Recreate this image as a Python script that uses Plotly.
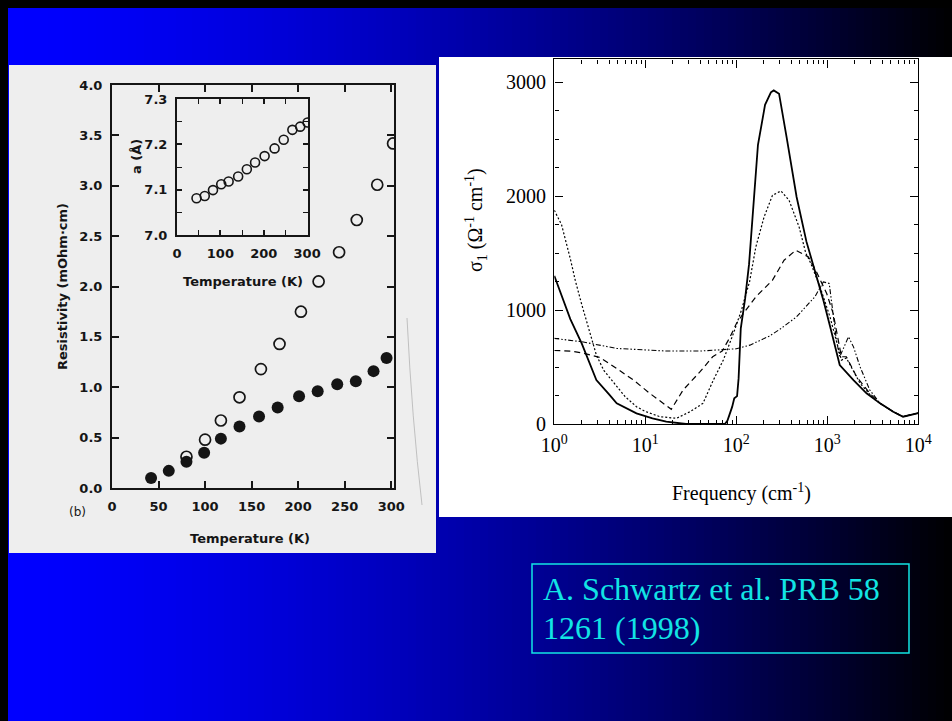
import plotly.graph_objects as go

W, H = 952, 721

# ---- Resistivity vs temperature (main left panel) ----
temp_filled = [42, 61, 80, 99, 117, 137, 158, 178, 201, 221, 242, 262, 281, 295]
rho_filled = [0.10, 0.17, 0.26, 0.35, 0.49, 0.61, 0.71, 0.80, 0.91, 0.96, 1.03, 1.06, 1.16, 1.29]
temp_open = [80, 100, 117, 137, 160, 180, 203, 222, 244, 263, 285, 302]
rho_open = [0.31, 0.48, 0.67, 0.90, 1.18, 1.43, 1.75, 2.05, 2.34, 2.66, 3.01, 3.42]

# ---- Lattice parameter vs temperature (inset) ----
temp_lattice = [45, 64, 83, 102, 119, 141, 161, 180, 202, 225, 246, 266, 284, 301]
a_lattice = [7.081, 7.086, 7.099, 7.112, 7.118, 7.129, 7.145, 7.160, 7.174, 7.191,
             7.210, 7.232, 7.239, 7.248]

# ---- Optical conductivity spectra (right panel) ----
freq_solid = [1, 1.3, 1.5, 2.0, 2.9, 4.0, 4.85, 8, 12, 17, 22, 28, 75, 80, 90, 95, 102,
              106, 112, 125, 138, 153, 173, 207, 240, 258, 295, 357, 460, 590, 700, 910,
              1070, 1220, 1370, 1940, 2700, 3800, 5300, 6800, 8900, 10000]
sigma_solid = [1300, 1050, 920, 707, 386, 260, 181, 94, 50, 20, 8, 0, 0, 30, 150, 225, 245,
               400, 840, 1100, 1400, 1900, 2450, 2800, 2910, 2927, 2898, 2518, 1992, 1600,
               1400, 1080, 860, 680, 517, 386, 269, 181, 108, 64, 88, 95]

freq_dot = [1, 1.2, 1.5, 1.7, 2.0, 2.5, 2.9, 3.5, 4.85, 6, 8, 10, 14.5, 22, 31, 43, 56, 72,
            93, 114, 140, 164, 202, 250, 310, 380, 490, 580, 650, 830, 1070, 1260, 1430,
            1620, 2290, 3200, 3800, 5300, 6800, 8900, 10000]
sigma_dot = [1875, 1750, 1450, 1260, 1050, 790, 605, 470, 327, 240, 152, 110, 64, 50, 108,
             181, 386, 561, 795, 1000, 1250, 1554, 1817, 2007, 2045, 1963, 1729, 1500, 1420,
             1206, 940, 736, 561, 580, 357, 225, 181, 108, 64, 88, 95]

freq_dash = [1, 1.5, 2, 3.18, 5, 7.4, 11.2, 19.3, 26, 30.4, 40, 55, 70, 85, 100, 117, 164,
             250, 335, 450, 620, 760, 985, 1160, 1320, 1430, 1620, 2100, 2930, 3800, 5300,
             6800, 8900, 10000]
sigma_dash = [645, 640, 625, 584, 480, 386, 269, 129, 298, 357, 459, 590, 640, 760, 880,
              960, 1116, 1262, 1437, 1525, 1466, 1335, 1145, 970, 736, 590, 590, 415, 269,
              181, 108, 64, 88, 95]

freq_ddd = [1, 2, 4.85, 17.2, 40, 78, 100, 141, 229, 300, 459, 730, 905, 1050, 1160, 1260,
            1370, 1710, 1940, 2290, 2930, 3800, 5300, 6800, 8900, 10000]
sigma_ddd = [751, 722, 663, 640, 640, 655, 660, 692, 770, 830, 940, 1116, 1247, 1233, 940,
             736, 590, 765, 677, 502, 298, 181, 108, 64, 88, 95]

temp_ticks = [0, 50, 100, 150, 200, 250, 300]
freq_ticks = [1, 10, 100, 1000, 10000]
freq_tick_text = ["10<sup>0</sup>", "10<sup>1</sup>", "10<sup>2</sup>", "10<sup>3</sup>",
                  "10<sup>4</sup>"]
sigma_ticks = [0, 1000, 2000, 3000]

citation = ["A. Schwartz et al. PRB 58", "1261 (1998)"]


def px(x):
    return x / W


def py(y):
    return 1 - y / H


INK = "#151515"
SCAN_GRAY = "#eeeeee"
CYAN = "#12e4e4"
sans = dict(family="DejaVu Sans", size=13, color=INK, weight="bold")
serif = dict(family="Liberation Serif", size=20, color="black")

fig = go.Figure()

fig.add_trace(go.Scatter(
    x=temp_open, y=rho_open, mode="markers", xaxis="x", yaxis="y",
    marker=dict(symbol="circle-open", size=11, color=INK, line=dict(width=1.7)),
))
fig.add_trace(go.Scatter(
    x=temp_filled, y=rho_filled, mode="markers", xaxis="x", yaxis="y",
    marker=dict(symbol="circle", size=12, color=INK),
))
fig.add_trace(go.Scatter(
    x=temp_lattice, y=a_lattice, mode="markers", xaxis="x2", yaxis="y2",
    marker=dict(symbol="circle-open", size=9, color=INK, line=dict(width=1.6)),
))

curves = [
    (freq_ddd, sigma_ddd, "5px,2px,1.5px,2px,1.5px,2px", 1.1),
    (freq_dash, sigma_dash, "6px,4px", 1.2),
    (freq_dot, sigma_dot, "2px,2px", 1.2),
    (freq_solid, sigma_solid, "solid", 1.8),
]
for fx, fy, dash, lw in curves:
    fig.add_trace(go.Scatter(
        x=fx, y=fy, mode="lines", xaxis="x3", yaxis="y3",
        line=dict(color="black", width=lw, dash=dash),
    ))

# Slide background: horizontal blue-to-black gradient built from thin strips
shapes = [dict(type="rect", xref="paper", yref="paper", x0=0, x1=1, y0=0, y1=1,
               fillcolor="black", line=dict(width=0), layer="below")]
n_strips = 118
x_start = 8
for i in range(n_strips):
    x0 = x_start + (W - x_start) * i / n_strips
    x1 = x_start + (W - x_start) * (i + 1) / n_strips + 0.6
    t = (i + 0.5) / n_strips
    b = int(round(255 * max(0.0, 1 - t ** 1.5)))
    shapes.append(dict(type="rect", xref="paper", yref="paper",
                       x0=px(x0), x1=px(min(x1, W)), y0=0, y1=py(8),
                       fillcolor=f"rgb(0,0,{b})", line=dict(width=0), layer="below"))

# Scanned figure panel and white figure panel
shapes.append(dict(type="rect", xref="paper", yref="paper",
                   x0=px(9), x1=px(436), y0=py(553), y1=py(65),
                   fillcolor=SCAN_GRAY, line=dict(width=0), layer="below"))
shapes.append(dict(type="rect", xref="paper", yref="paper",
                   x0=px(439), x1=px(952), y0=py(517), y1=py(57),
                   fillcolor="white", line=dict(width=0), layer="below"))
# Faint page-edge crease on the scanned sheet
shapes.append(dict(type="path", xref="paper", yref="paper", layer="below",
                   path=(f"M {px(407)},{py(318)} Q {px(412)},{py(420)} "
                         f"{px(422)},{py(505)}"),
                   line=dict(color="#b4b4b4", width=0.8)))
# Citation frame
shapes.append(dict(type="rect", xref="paper", yref="paper",
                   x0=px(532), x1=px(909), y0=py(653), y1=py(564),
                   line=dict(color=CYAN, width=1.5), fillcolor="rgba(0,0,0,0)"))


def label(text, x, y, font, angle=0, xanchor="center"):
    return dict(text=text, x=px(x), y=py(y), textangle=angle, font=font, showarrow=False,
                xref="paper", yref="paper", xanchor=xanchor, yanchor="middle")


annotations = [
    label("Resistivity (mOhm·cm)", 62, 287, sans, -90),
    label("Temperature (K)", 250, 538, sans),
    label("(b)", 77, 512, dict(family="DejaVu Sans", size=12, color=INK)),
    label("Temperature (K)", 243, 281, sans),
    label("a (Å)", 136, 157, sans, -90),
    label("σ<sub>1</sub> (Ω<sup>-1</sup> cm<sup>-1</sup>)", 476, 220, serif, -90),
    label("Frequency (cm<sup>-1</sup>)", 741, 492, serif),
]
for k, line in enumerate(citation):
    annotations.append(label(line, 541, 589 + 39 * k,
                             dict(family="Liberation Serif", size=32, color=CYAN),
                             xanchor="left"))

scan_axis = dict(showline=True, linecolor=INK, linewidth=2, mirror="ticks", ticks="inside",
                 tickcolor=INK, tickwidth=1.6, showgrid=False, zeroline=False,
                 tickfont=sans, ticklabelstandoff=5, automargin=False)
sig_axis = dict(showline=True, linecolor="black", linewidth=1.4, mirror="ticks",
                ticks="inside", tickcolor="black", tickwidth=1.2, showgrid=False,
                zeroline=False, tickfont=serif, ticklabelstandoff=3, automargin=False)

fig.update_layout(
    width=W, height=H, margin=dict(l=0, r=0, t=0, b=0, pad=0, autoexpand=False),
    paper_bgcolor="black", plot_bgcolor="rgba(0,0,0,0)", showlegend=False,
    shapes=shapes, annotations=annotations,
    xaxis=dict(scan_axis, domain=[px(112), px(394)], range=[0, 303], tickvals=temp_ticks,
               ticklen=7, anchor="y"),
    yaxis=dict(scan_axis, domain=[py(488), py(85)], range=[0, 4.0], dtick=0.5,
               tickformat=".1f", ticklen=7, anchor="x"),
    xaxis2=dict(scan_axis, domain=[px(177), px(308)], range=[0, 302], dtick=100, ticklen=5,
                minor=dict(dtick=50, ticks="inside", ticklen=5, tickcolor=INK, tickwidth=1.4),
                anchor="y2"),
    yaxis2=dict(scan_axis, domain=[py(235), py(99)], range=[7.0, 7.3], dtick=0.1,
                tickformat=".1f", ticklen=5,
                minor=dict(dtick=0.05, ticks="inside", ticklen=5, tickcolor=INK, tickwidth=1.4),
                anchor="x2"),
    xaxis3=dict(sig_axis, type="log", domain=[px(554.3), px(918.3)], range=[0, 4],
                tickvals=freq_ticks, ticktext=freq_tick_text, ticklen=8,
                minor=dict(dtick="D1", ticks="inside", ticklen=4, tickcolor="black", tickwidth=1),
                anchor="y3"),
    yaxis3=dict(sig_axis, domain=[py(424), py(59.3)], range=[0, 3200], tickvals=sigma_ticks,
                ticklen=8,
                minor=dict(dtick=250, ticks="inside", ticklen=4, tickcolor="black", tickwidth=1),
                anchor="x3"),
)

page_reset = ("document.body.style.margin='0';document.body.style.padding='0';"
              "document.documentElement.style.overflow='hidden';")
fig.write_html("out.html", post_script=page_reset)
